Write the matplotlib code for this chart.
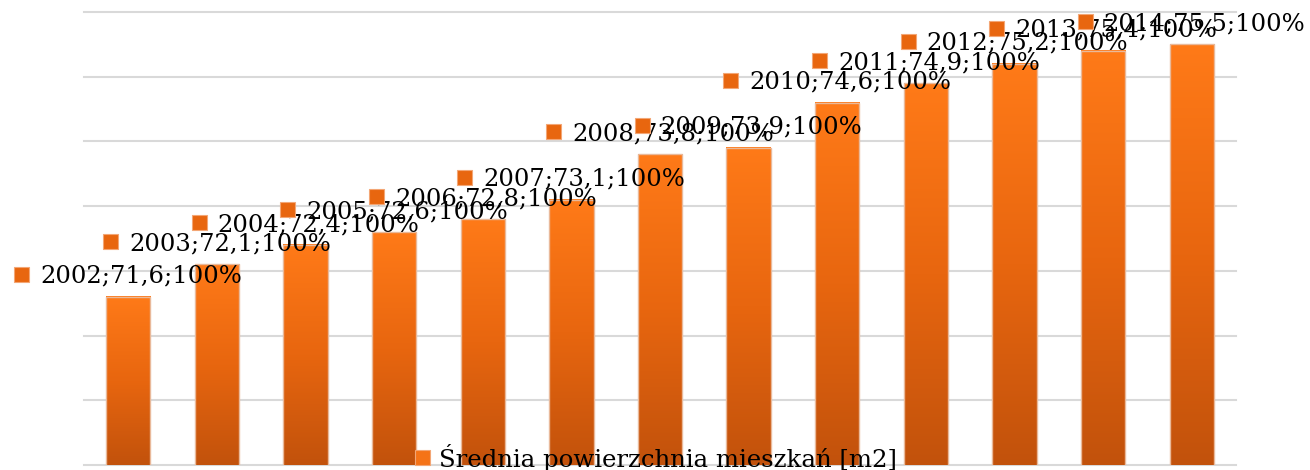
import matplotlib
matplotlib.use("Agg")
import matplotlib.pyplot as plt
import numpy as np
from matplotlib.colors import LinearSegmentedColormap
from matplotlib.patches import Rectangle

years = [2002, 2003, 2004, 2005, 2006, 2007, 2008, 2009, 2010, 2011, 2012, 2013, 2014]
values = [71.6, 72.1, 72.4, 72.6, 72.8, 73.1, 73.8, 73.9, 74.6, 74.9, 75.2, 75.4, 75.5]
shares = [100] * 13
series_name = "Średnia powierzchnia mieszkań [m2]"

W, H = 1310, 470
fig = plt.figure(figsize=(W / 100, H / 100), dpi=100)
ax = fig.add_axes([84 / W, 5 / H, 1152 / W, 453 / H])

grad = LinearSegmentedColormap.from_list("bar", ["#C2520C", "#E8660F", "#FF7A18"])
g = np.linspace(0, 1, 256).reshape(-1, 1)

x = np.arange(len(years))
bw = 0.5
bars = ax.bar(x, values, width=bw, color="none", edgecolor="#E9B99A", linewidth=1, zorder=3)
for xi, v in zip(x, values):
    ax.imshow(g, cmap=grad, origin="lower", aspect="auto", zorder=2,
              extent=(xi - bw / 2, xi + bw / 2, 69, v))

ax.set_xlim(-0.5, len(years) - 0.5)
ax.set_ylim(69, 76)
ax.set_yticks(range(69, 77))
ax.yaxis.grid(True, color="#D9D9D9", linewidth=1.5)
for ln in ax.get_ygridlines():
    ln.set_clip_on(False)
ax.set_axisbelow(True)
ax.tick_params(left=False, bottom=False, labelleft=False, labelbottom=False)
for s in ax.spines.values():
    s.set_visible(False)

font = dict(family="DejaVu Serif", color="black")
texts = []
for xi, yr, v, p in zip(x, years, values, shares):
    lab = f"{yr};{v:.1f};{p}%".replace(".", ",")
    t = ax.annotate(lab, (xi, v), xytext=(13, 14), textcoords="offset pixels",
                    ha="center", va="baseline", zorder=5, fontsize=17.5, **font)
    texts.append((t, xi, v))

leg = fig.text(0.5 + 13 / W, 3 / H, series_name, ha="center", va="baseline",
               fontsize=17.6, zorder=6, **font)

fig.canvas.draw()
r = fig.canvas.get_renderer()
for t, xi, v in texts:
    bb = t.get_window_extent(r)
    base = ax.transData.transform((xi, v))[1] + 14
    fig.patches.append(Rectangle(((bb.x0 - 26) / W, (base + 1) / H), 15 / W, 15 / H,
                                 transform=fig.transFigure, facecolor="#E8660F",
                                 edgecolor="#F3A675", linewidth=0.8, zorder=5))
bb = leg.get_window_extent(r)
fig.patches.append(Rectangle(((bb.x0 - 24) / W, 5 / H), 15 / W, 15 / H,
                             transform=fig.transFigure, facecolor="#F57317",
                             edgecolor="#F3A675", linewidth=0.8, zorder=5))

fig.savefig("out.png", dpi=100)
